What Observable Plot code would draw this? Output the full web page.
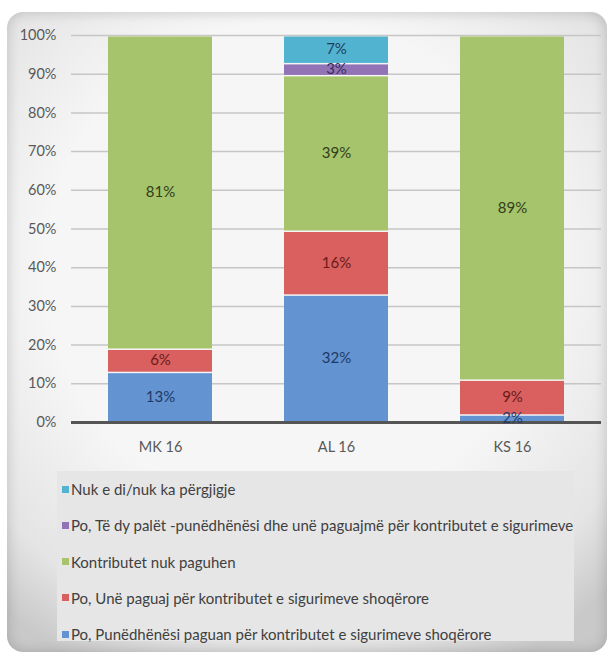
<!DOCTYPE html>
<html>
<head>
<meta charset="utf-8">
<script src="https://cdn.jsdelivr.net/npm/d3@7"></script>
<script src="https://cdn.jsdelivr.net/npm/@observablehq/plot@0.6"></script>
<style>
  html, body { margin: 0; padding: 0; background: #ffffff; }
  #wrap { position: relative; width: 614px; height: 658px; overflow: hidden; font-family: Lato, "Open Sans", sans-serif; }
  #panel { position: absolute; left: 7px; top: 12px; width: 600px; height: 640px; border-radius: 16px;
           background: radial-gradient(ellipse 75% 70% at 48% 40%, #f6f6f6 55%, #e4e4e4 85%, #c9c9c9 100%);
           box-shadow: inset 0 0 14px rgba(0,0,0,0.18); }
  #chart { position: absolute; left: 0; top: 0; }
  #legend { position: absolute; left: 57px; top: 471px; width: 517px; height: 170px; background: #e6e6e6; }
  .item { position: absolute; left: 5px; display: flex; align-items: center; font-size: 15px; color: #404040; white-space: nowrap; }
  .sw { width: 7px; height: 7px; margin-right: 2px; }
</style>
</head>
<body>
<div id="wrap">
  <div id="panel"></div>
  <div id="chart"></div>
  <div id="legend"></div>
</div>
<script>
const categories = ["MK 16", "AL 16", "KS 16"];
const series = [
  "Po, Punëdhënësi paguan për kontributet e sigurimeve shoqërore",
  "Po, Unë paguaj për kontributet e sigurimeve shoqërore",
  "Kontributet nuk paguhen",
  "Po, Të dy palët -punëdhënësi dhe unë paguajmë për kontributet e sigurimeve",
  "Nuk e di/nuk ka përgjigje"
];
const employerPays = [13, 32, 2];
const iPay = [6, 16, 9];
const notPaid = [81, 39, 89];
const bothPay = [0, 3, 0];
const dontKnow = [0, 7, 0];
const yTicks = [0, 0.1, 0.2, 0.3, 0.4, 0.5, 0.6, 0.7, 0.8, 0.9, 1];

const seriesValues = [employerPays, iPay, notPaid, bothPay, dontKnow];
const colors = ["#6393d1", "#d9605f", "#a5c46b", "#9273b6", "#52b3d0"];
const labelColors = ["#1f3a64", "#6a1a1a", "#333d1a", "#3a2a5a", "#1f3d5a"];

const data = [];
series.forEach((s, i) => categories.forEach((c, j) => {
  data.push({category: c, series: s, value: seriesValues[i][j], color: colors[i], labelColor: labelColors[i]});
}));

const FONT = 'Lato, "Open Sans", sans-serif';

const chart = Plot.plot({
  width: 614,
  height: 460,
  marginLeft: 71,
  marginRight: 13,
  marginTop: 35,
  marginBottom: 38,
  style: {background: "transparent", fontFamily: FONT, fontSize: "14.5px", color: "#595959"},
  x: {domain: categories, paddingInner: 0.407, paddingOuter: 0.2035, label: null, tickSize: 0, tickPadding: 19},
  y: {domain: [0, 1], ticks: yTicks, tickFormat: d3.format(".0%"), label: null, tickSize: 0, tickPadding: 15},
  color: {type: "identity"},
  marks: [
    Plot.ruleY(yTicks.slice(1), {stroke: "#c6c6c6", strokeWidth: 1.5}),
    Plot.barY(data, Plot.stackY({
      offset: "normalize", order: series, x: "category", y: "value", z: "series",
      fill: "color", insetTop: 1.5
    })),
    Plot.ruleY([0], {stroke: "#555555", strokeWidth: 3}),
    Plot.text(data, Plot.stackY({
      filter: d => d.value > 0,
      offset: "normalize", order: series, x: "category", y: "value", z: "series",
      text: d => d.value + "%", fill: "labelColor", fontSize: 15
    }))
  ]
});
document.getElementById("chart").appendChild(chart);

const legend = document.getElementById("legend");
const legendOrder = [4, 3, 2, 1, 0];
const texts = [];
legendOrder.forEach((idx, k) => {
  const item = document.createElement("div");
  item.className = "item";
  item.style.top = (9 + k * 36.3) + "px";
  const sw = document.createElement("span");
  sw.className = "sw";
  sw.style.background = colors[idx];
  const t = document.createElement("span");
  t.textContent = series[idx];
  item.appendChild(sw);
  item.appendChild(t);
  legend.appendChild(item);
  texts.push(t);
});
// fit the longest legend line into the box width
const maxW = Math.max(...texts.map(t => t.getBoundingClientRect().width));
if (maxW > 503) {
  const fs = 15 * 503 / maxW;
  legend.querySelectorAll(".item").forEach(it => it.style.fontSize = fs + "px");
}
</script>
</body>
</html>
